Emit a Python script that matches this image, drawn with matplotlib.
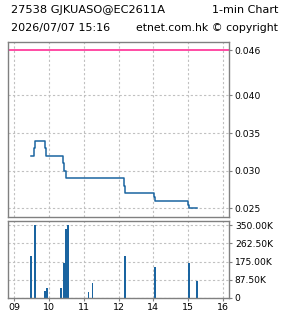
import matplotlib
matplotlib.use("Agg")
import matplotlib.pyplot as plt

# price steps (time, price) - minute chart
price_times = ["09:29", "09:35", "09:36", "09:53", "09:55", "10:24", "10:26", "10:29",
               "13:10", "13:11", "14:01", "14:03", "15:00", "15:01", "15:16"]
price_values = [0.032, 0.033, 0.034, 0.033, 0.032, 0.031, 0.030, 0.029,
                0.028, 0.027, 0.0265, 0.026, 0.0255, 0.025, 0.025]
ref_price = 0.046

# volume bars
vol_times = ["09:29", "09:36", "09:53", "09:57", "10:21", "10:26", "10:29", "10:33",
             "11:08", "11:15", "13:11", "14:03", "15:01", "15:15"]
vol_values = [203e3, 350e3, 32e3, 45e3, 47e3, 168e3, 332e3, 350e3,
              27e3, 71e3, 201e3, 148e3, 168e3, 81e3]

hour_labels = ["09", "10", "11", "12", "14", "15", "16"]
price_ticks = [0.025, 0.030, 0.035, 0.040, 0.046]
vol_ticks = [0, 87.5e3, 175e3, 262.5e3, 350e3]
vol_tick_labels = ["0", "87.50K", "175.00K", "262.50K", "350.00K"]


def to_slot(t):
    """HH:MM -> x position (lunch hour folded into the 12 slot)"""
    h, m = map(int, t.split(":"))
    if h == 13:
        h = 12
    if h >= 14:
        idx = h - 14 + 4
    else:
        idx = h - 9
    return idx + m / 60.0


plt.rcParams['font.family'] = 'DejaVu Sans'
BLUE = '#1a64a0'
PINK = '#ff1a8c'
GRID = '#c0c0c0'
SPINE = '#808080'

fig = plt.figure(figsize=(2.85, 3.18), dpi=100)
ax1 = fig.add_axes([0.029, 0.3186, 0.7755, 0.548])
ax2 = fig.add_axes([0.029, 0.0638, 0.7755, 0.2412])

px = [to_slot(t) for t in price_times]
ax1.step(px, price_values, where='post', color=BLUE, lw=1.1)
ax1.axhline(ref_price, color=PINK, lw=1.1)

vx = [to_slot(t) for t in vol_times]
ax2.bar(vx, vol_values, width=0.045, color=BLUE, linewidth=0)

xlim = (-0.17, 6.18)
for ax in (ax1, ax2):
    ax.set_xlim(*xlim)
    ax.set_xticks(range(len(hour_labels)))
    ax.yaxis.tick_right()
    ax.grid(True, color=GRID, linestyle=(0, (2, 2)), lw=0.8)
    ax.set_axisbelow(True)
    for s in ax.spines.values():
        s.set_color(SPINE)
        s.set_linewidth(1.0)
    ax.tick_params(axis='both', colors=SPINE, labelcolor='black', labelsize=6.6,
                   length=2.5, width=0.8, pad=1.5)

ax1.set_ylim(0.02388, 0.04706)
ax1.set_yticks(price_ticks)
ax1.set_yticklabels([f"{v:.3f}" for v in price_ticks])
ax1.tick_params(axis='x', labelbottom=False, length=0)
ax1.get_yticklines()[-2].set_color(PINK)
ax1.get_ygridlines()[-1].set_visible(False)

ax2.set_ylim(0, 371e3)
ax2.set_yticks(vol_ticks)
ax2.set_yticklabels(vol_tick_labels)
ax2.set_xticklabels(hour_labels)
ax2.tick_params(axis='x', labelsize=6.8, pad=1.5)

fig.text(11 / 285, 1 - 10 / 318, "27538 GJKUASO@EC2611A", fontsize=8.2, va='center', ha='left')
fig.text(278 / 285, 1 - 10 / 318, "1-min Chart", fontsize=8, va='center', ha='right')
fig.text(11 / 285, 1 - 28 / 318, "2026/07/07 15:16", fontsize=8, va='center', ha='left')
fig.text(278 / 285, 1 - 28 / 318, "etnet.com.hk \u00a9 copyright", fontsize=7.8, va='center', ha='right')

fig.savefig("out.png", dpi=100)
